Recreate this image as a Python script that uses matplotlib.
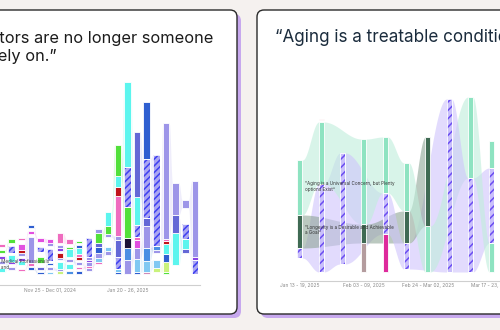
import numpy as np
import matplotlib
matplotlib.use("Agg")
import matplotlib.pyplot as plt
from matplotlib.patches import FancyBboxPatch

plt.rcParams['font.family'] = ['Inter', 'DejaVu Sans']
plt.rcParams['hatch.linewidth'] = 1.1

# --------------------------- data : left card (weekly columns, segments bottom -> top)
# "_" = empty space in the column
left_tick_pos = [5, 13]
left_tick_labels = ["Nov 25 - Dec 01, 2024", "Jan 20 - 26, 2025"]
left_columns = [
    [("_", 2), ("C", 4), ("_", 4), ("L", 3), ("_", 2), ("U", 3), ("_", 3), ("G", 3), ("_", 3), ("K", 3)],
    [("_", 4), ("L", 3), ("_", 3), ("U", 2), ("C", 7), ("_", 2), ("H", 7), ("_", 3), ("G", 4)],
    [("_", 3), ("K", 2), ("_", 4), ("C", 4), ("U", 3), ("_", 2), ("L", 3), ("R", 3), ("M", 6), ("_", 4), ("K", 2)],
    [("_", 4), ("B", 3), ("_", 1), ("K", 3), ("L", 26), ("_", 3), ("M", 3), ("_", 3), ("B", 3)],
    [("B", 2), ("_", 2), ("P", 3), ("_", 4), ("G", 6), ("_", 5), ("H", 5), ("_", 5), ("M", 4)],
    [("Q", 2), ("_", 2), ("L", 3), ("_", 2), ("B", 2), ("_", 2), ("H", 12), ("_", 3), ("L", 3), ("M", 4)],
    [("Y", 3), ("L", 2), ("C", 7), ("_", 2), ("L", 2), ("R", 5), ("_", 2), ("U", 3), ("L", 3), ("_", 2), ("K", 10)],
    [("S", 3), ("_", 2), ("C", 5), ("_", 2), ("L", 3), ("_", 2), ("C", 8), ("G", 2), ("_", 3), ("K", 5)],
    [("B", 3), ("_", 2), ("K", 2), ("_", 2), ("L", 3), ("_", 2), ("R", 3), ("K", 3), ("C", 6), ("B", 3), ("_", 2), ("G", 2)],
    [("_", 3), ("L", 3), ("K", 2), ("L", 4), ("U", 2), ("L", 3), ("H", 19)],
    [("_", 10), ("K", 2), ("Q", 4), ("L", 5), ("B", 6), ("P", 4), ("G", 10), ("L", 4)],
    [("_", 19), ("L", 4), ("Q", 4), ("_", 10), ("L", 3), ("G", 8), ("C", 14)],
    [("B", 2), ("Q", 3), ("H", 12), ("P", 17), ("L", 4), ("K", 40), ("R", 9), ("C", 11), ("G", 31)],
    [("L", 14), ("S", 12), ("N", 10), ("G", 31), ("H", 40), ("C", 85)],
    [("B", 2), ("Q", 13), ("L", 11), ("M", 8), ("K", 3), ("H", 12), ("C", 28), ("P", 65)],
    [("V", 2), ("Q", 11), ("S", 13), ("L", 22), ("P", 8), ("H", 59), ("B", 57)],
    [("_", 2), ("Y", 4), ("Q", 8), ("_", 7), ("L", 3), ("S", 4), ("H", 91)],
    [("G", 2), ("Y", 10), ("B", 8), ("C", 10), ("R", 3), ("K", 2), ("L", 116)],
    [("_", 9), ("C", 32), ("P", 18), ("L", 32)],
    [("_", 21), ("P", 4), ("C", 10), ("H", 15), ("_", 16), ("L", 8)],
    [("H", 14), ("U", 3), ("L", 76)],
]
left_colors = {"C": "#5cf5ee", "B": "#2f5fd0", "P": "#6468d6", "L": "#9d95e8", "H": "#aaa5f2",
               "G": "#52e03a", "K": "#ef6cbf", "R": "#c0141a", "N": "#1c1236", "S": "#4b8fe3",
               "Q": "#80c8f2", "Y": "#c9f27c", "M": "#e24fe0", "V": "#d08ab8", "U": "#8a44e6"}

# --------------------------- data : right card
right_tick_pos = [0, 3, 6, 9]
right_tick_labels = ["Jan 13 - 19, 2025", "Feb 03 - 09, 2025", "Feb 24 - Mar 02, 2025", "Mar 17 - 23, 2025"]
right_columns = [
    [("_", 14), ("H", 10), ("D", 33), ("T", 55)],
    [("H", 88), ("T", 62), ("_", 2.5), ("K", 1)],
    [("_", 8), ("H", 111)],
    [("A", 29), ("D", 19), ("T", 85)],
    [("M", 38), ("H", 41), ("T", 56)],
    [("_", 3), ("H", 26), ("D", 32), ("T", 48)],
    [("T", 46), ("D", 89)],
    [("H", 173)],
    [("H", 94), ("T", 81)],
    [("T", 29), ("H", 75), ("T", 27)],
]
right_colors = {"T": "#8ee3c1", "D": "#3f6a53", "H": "#c9bffb", "M": "#de2a9c", "A": "#b49c9e", "K": "#f0a0b0"}
right_ribbons = {"T": "#bfeedb", "D": "#8fa597", "H": "#cfc4fc", "M": "#f3b3d6", "A": "#d8cccd", "K": "#f0a0b0"}


def draw_columns(ax, columns, colors, width, hatch, hatch_color):
    segs = []
    for x, col in enumerate(columns):
        y = 0
        out = []
        for key, h in col:
            if key != "_":
                if key == "H":
                    ax.bar(x, h, width, bottom=y, color=colors[key], edgecolor=hatch_color,
                           linewidth=0, hatch=hatch, zorder=3)
                    ax.bar(x, h, width, bottom=y, fill=False, edgecolor="white", linewidth=0.6, zorder=4)
                else:
                    ax.bar(x, h, width, bottom=y, color=colors[key], edgecolor="white",
                           linewidth=0.6, zorder=3)
                out.append((key, y, y + h))
            y += h
        segs.append(out)
    return segs


def draw_ribbons(ax, segs, width, colors, alpha, max_skip):
    t = np.linspace(0, 1, 40)
    s = (1 - np.cos(np.pi * t)) / 2
    for i, col in enumerate(segs):
        for key, lo, hi in col:
            for j in range(i + 1, min(i + 1 + max_skip, len(segs))):
                match = [sg for sg in segs[j] if sg[0] == key]
                if match:
                    _, lo2, hi2 = match[0]
                    x = (i + width / 2) + (j - i - width) * t
                    ax.fill_between(x, lo + (lo2 - lo) * s, hi + (hi2 - hi) * s,
                                    color=colors[key], alpha=alpha, linewidth=0, zorder=1)
                    break


fig = plt.figure(figsize=(5.0, 3.3), dpi=100)
fig.patch.set_facecolor("#f5f1ef")

# fond : cartes en pixels
bg = fig.add_axes([0, 0, 1, 1])
bg.set_xlim(0, 500)
bg.set_ylim(330, 0)
bg.axis("off")
bg.set_facecolor("none")

for x0, x1 in [(-30, 237), (257, 540)]:
    bg.add_patch(FancyBboxPatch((x0 + 4, 14), x1 - x0, 304, boxstyle="round,pad=0,rounding_size=7",
                                facecolor="#c7a8ee", edgecolor="none", zorder=1))
    bg.add_patch(FancyBboxPatch((x0, 10), x1 - x0, 304, boxstyle="round,pad=0,rounding_size=7",
                                facecolor="white", edgecolor="#2a2a2a", linewidth=1.0, zorder=2))

bg.text(213, 39, "\u201cDoctors are no longer someone", ha="right", va="center",
        fontsize=11.8, color="#1b1b1b", zorder=5)
bg.text(57, 56, "we rely on.\u201d", ha="right", va="center", fontsize=11.8, color="#1b1b1b", zorder=5)
bg.text(275, 37, "\u201cAging is a treatable condition.\u201d", ha="left", va="center",
        fontsize=12.3, color="#1a2b3c", zorder=5)

# --------------------------- graphique gauche
ax1 = fig.add_axes([-2.825 / 500, 45 / 330, 202.6 / 500, 211 / 330])
ax1.set_facecolor("none")
ax1.set_xlim(-0.5, 20.5)
ax1.set_ylim(-11, 200)
segs1 = draw_columns(ax1, left_columns, left_colors, 0.67, "/////", "#3d3ff0")
draw_ribbons(ax1, segs1, 0.67, left_colors, 0.16, 1)
for sp in ["top", "right", "left"]:
    ax1.spines[sp].set_visible(False)
ax1.spines["bottom"].set_color("#cfcfcf")
ax1.spines["bottom"].set_linewidth(0.8)
ax1.set_yticks([])
ax1.set_xticks(left_tick_pos)
ax1.set_xticklabels(left_tick_labels, fontsize=3.5, color="#8a8a8a")
ax1.tick_params(axis="x", length=0, pad=2)
ax1.text(50, 267, "\u201cDeclining Trust in Medical Professionals'\nHealth Knowledge and\nAuthority\u201d",
         transform=bg.transData, ha="right", va="center", multialignment="left",
         fontsize=3.3, color="#444444", linespacing=1.0, zorder=10)

# --------------------------- graphique droite
ax2 = fig.add_axes([287.2 / 500, 49 / 330, 212.8 / 500, 199 / 330])
ax2.set_facecolor("none")
ax2.set_xlim(-0.6, 9.39)
ax2.set_ylim(-9, 190)
segs2 = draw_columns(ax2, right_columns, right_colors, 0.235, "////", "#6b4df2")
draw_ribbons(ax2, segs2, 0.235, right_ribbons, 0.6, 3)
ax2.axis("off")
ax2.hlines(-9, 0, 9.39, color="#cfcfcf", linewidth=0.8, clip_on=False)
for p, lab in zip(right_tick_pos, right_tick_labels):
    ax2.text(p, -14, lab, ha="center", va="center", fontsize=3.5, color="#8a8a8a")
ax2.text(305, 186.5, "\u201cAging is a Universal Concern, but Plenty\noptions Exist\u201d",
         transform=bg.transData, ha="left", va="center", fontsize=3.3, color="#333333",
         linespacing=1.0, zorder=10)
ax2.text(305, 230.5, "\u201cLongevity is a Desirable and Achievable\na Goal\u201d",
         transform=bg.transData, ha="left", va="center", fontsize=3.3, color="#333333",
         linespacing=1.0, zorder=10)

fig.savefig("out.png", dpi=100, facecolor=fig.get_facecolor())
